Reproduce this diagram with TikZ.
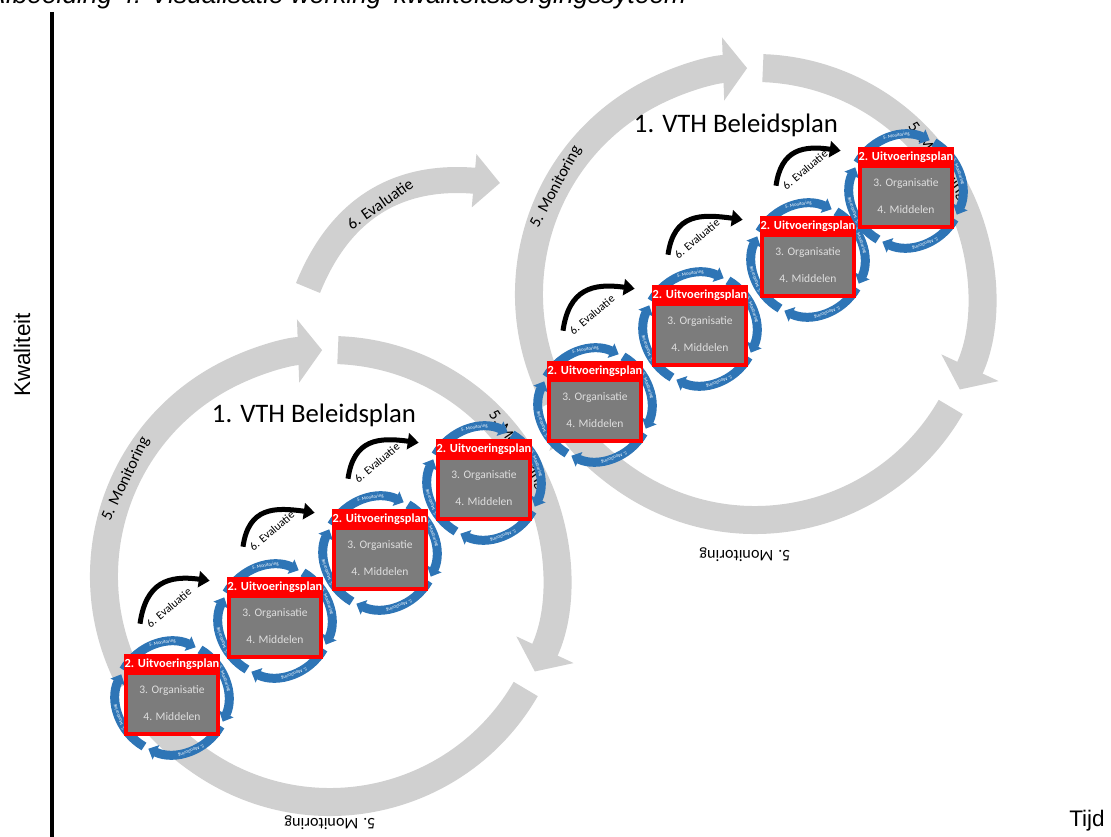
\documentclass[tikz,border=0pt]{standalone}
\usepackage{fontspec}
\setmainfont{Carlito}
\newfontfamily\arial{Liberation Sans}
\usetikzlibrary{positioning, arrows.meta}

\definecolor{ringgrijs}{RGB}{208,208,208}
\definecolor{planrood}{RGB}{255,0,0}
\definecolor{ringblauw}{RGB}{46,117,182}
\definecolor{vakgrijs}{RGB}{124,124,124}
\definecolor{vaktekst}{RGB}{222,222,222}

\newlength\pu
\setlength\pu{0.025cm}

\begin{document}
\begin{tikzpicture}[x=0.025cm, y=0.025cm,
    grotering/.style={draw=ringgrijs, line width=28\pu, -{Triangle[width=44.1pt, length=17.1pt]}},
    grijspijl/.style={draw=ringgrijs, line width=26\pu, -{Triangle[width=37pt, length=18.5pt]}},
    ringtekst/.style={font=\fontsize{11.5}{13}\selectfont, inner sep=0pt},
    beleid/.style={font=\fontsize{19}{21}\selectfont},
    astekst/.style={font=\arial\fontsize{16}{18}\selectfont},
    blauwring/.style={draw=ringblauw, line width=9\pu, -{Triangle[width=11pt, length=6pt]}},
    mini/.style={text=white, font=\fontsize{3.4}{4}\selectfont, inner sep=0pt},
    plan/.style={fill=planrood, minimum width=96\pu, minimum height=82\pu, inner sep=0pt},
    kop/.style={text=white, font=\bfseries\fontsize{8.8}{9}\selectfont, minimum height=20\pu, inner sep=0pt},
    middel/.style={fill=vakgrijs, text=vaktekst, minimum width=88\pu, minimum height=57\pu,
        inner sep=0pt, align=center, font=\fontsize{8.2}{19}\selectfont},
    evalpijl/.style={draw=black, line width=5\pu, -{Triangle[width=11.4pt, length=7.8pt]}},
    evaltekst/.style={font=\fontsize{8.2}{10}\selectfont, inner sep=0pt}]

    \useasboundingbox (0,0) rectangle (1111,836);

    % assen
    \coordinate (astop) at (52,824);
    \coordinate (asbodem) at (52,-2);
    \draw[line width=4\pu] (astop) -- (asbodem);
    \node[astekst, rotate=90] (kwaliteit) at (22,481) {Kwaliteit};
    \node[astekst] (tijd) at (1087,15) {Tijd};
    \node[anchor=base west, font=\arial\itshape\fontsize{18.7}{20}\selectfont] (bijschrift) at (-17,832)
        {Afbeelding 4: Visualisatie werking 'kwaliteitsborgingssyteem'};

    % grote cirkels
    \coordinate (c1) at (330,260);
    \coordinate (c2) at (755,542);
    \foreach \c in {c1,c2} {
        \draw[grotering] ([shift={(208:226)}]\c) arc[start angle=208, end angle=92, radius=226];
        \draw[grotering] ([shift={(88:226)}]\c) arc[start angle=88, end angle=-25, radius=226];
        \draw[grotering] ([shift={(-30:226)}]\c) arc[start angle=-30, end angle=-148, radius=226];
    }

    % evaluatie tussen de beleidsplannen
    \coordinate (evalstart) at (308,548);
    \coordinate (evaleind) at (500,653);
    \draw[grijspijl] (evalstart) to[out=68, in=175, looseness=1.1] (evaleind);
    \node[ringtekst, rotate=35] (grooteval) at (380,632) {6. Evaluatie};

    \node[beleid] (beleid1) at (314,421) {1. VTH Beleidsplan};
    \node[beleid] (beleid2) at (736,711) {1. VTH Beleidsplan};

    \node[ringtekst, rotate=64.6] (mon1l) at ([shift={(154.6:226)}]c1) {5. Monitoring};
    \node[ringtekst, rotate=-56] (mon1r) at ([shift={(34:226)}]c1) {5. Monitoring};
    \node[ringtekst, rotate=180] (mon1o) at (330,13) {5. Monitoring};
    \node[ringtekst, rotate=61.7] (mon2l) at ([shift={(151.7:226)}]c2) {5. Monitoring};
    \node[ringtekst, rotate=-54] (mon2r) at ([shift={(36:226)}]c2) {5. Monitoring};
    \node[ringtekst, rotate=180] (mon2o) at (745,281) {5. Monitoring};

    % uitvoeringsplannen
    \foreach \n/\x/\y in {1/172/141, 2/275/218, 3/380/286, 4/484/356,
                          5/595/434, 6/700/510, 7/808/579, 8/906/648} {
        \coordinate (m\n) at (\x,\y-3);
        \foreach \a in {155,65,-25,-115}
            \draw[blauwring] ([shift={(\a+85:56)}]m\n) arc[start angle=\a+85, end angle=\a, radius=56];
        \foreach \t [count=\k] in {100,20,-70,200}
            \node[mini, rotate=\t-90] (mon\n\k) at ([shift={(\t:56)}]m\n) {5. Monitoring};
        \node[plan] (plan\n) at (\x,\y) {};
        \node[kop, below=0pt of plan\n.north] (kop\n) {2. Uitvoeringsplan};
        \node[middel, below=0pt of kop\n] (middel\n) {3. Organisatie\\4. Middelen};
    }

    \foreach \i/\j in {1/2, 2/3, 3/4, 5/6, 6/7, 7/8} {
        \draw[evalpijl] ([shift={(-32,30)}]plan\i.north) to[out=82, in=172, looseness=1.3]
            ([shift={(-17,-4)}]plan\j.north west);
        \node[evaltekst, rotate=40] (eval\i) at ([shift={(-3,46)}]plan\i.north) {6. Evaluatie};
    }
\end{tikzpicture}
\end{document}
